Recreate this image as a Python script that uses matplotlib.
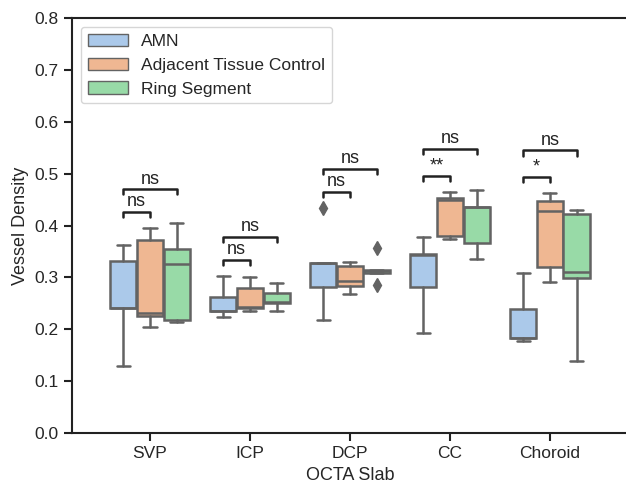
import numpy as np
import matplotlib.pyplot as plt
import seaborn as sns
from matplotlib.patches import Patch

sns.set_theme(style="ticks")
plt.rcParams['font.family'] = ['Liberation Sans', 'DejaVu Sans']

# OCTA スラブとグループ
slabs = ["SVP", "ICP", "DCP", "CC", "Choroid"]
groups = ["AMN", "Adjacent Tissue Control", "Ring Segment"]

# 箱ひげ図の統計量 (whislo, q1, med, q3, whishi) を図から読み取り
amn = [(0.129, 0.241, 0.241, 0.332, 0.362),
       (0.224, 0.235, 0.236, 0.262, 0.303),
       (0.218, 0.281, 0.328, 0.328, 0.328),
       (0.193, 0.281, 0.343, 0.345, 0.378),
       (0.177, 0.183, 0.183, 0.239, 0.308)]
adjacent = [(0.204, 0.226, 0.231, 0.372, 0.395),
            (0.235, 0.241, 0.243, 0.280, 0.301),
            (0.268, 0.283, 0.293, 0.322, 0.330),
            (0.374, 0.380, 0.449, 0.453, 0.465),
            (0.291, 0.320, 0.428, 0.447, 0.462)]
ring = [(0.214, 0.218, 0.326, 0.355, 0.405),
        (0.235, 0.251, 0.252, 0.270, 0.289),
        (0.309, 0.309, 0.312, 0.314, 0.314),
        (0.335, 0.366, 0.436, 0.436, 0.468),
        (0.139, 0.299, 0.311, 0.422, 0.430)]
# 外れ値
amn_fliers = [[], [], [0.434], [], []]
adjacent_fliers = [[], [], [], [], []]
ring_fliers = [[], [], [0.357, 0.285], [], []]

# 有意差の注釈 (AMN vs 隣接組織, AMN vs リングセグメント)
sig_adjacent = ["ns", "ns", "ns", "**", "*"]
sig_ring = ["ns", "ns", "ns", "ns", "ns"]

series = [amn, adjacent, ring]
fliers = [amn_fliers, adjacent_fliers, ring_fliers]
colors = [sns.desaturate(c, 0.75) for c in sns.color_palette("pastel")[:3]]
gray = "#636363"

fig = plt.figure(figsize=(6.26, 4.88), dpi=100)
ax = fig.add_axes([0.115, 0.1127, 0.888, 0.8503])

w = 0.8 / 3
offsets = [-w, 0, w]
for g in range(3):
    stats = []
    for i in range(len(slabs)):
        lo, q1, med, q3, hi = series[g][i]
        stats.append(dict(whislo=lo, q1=q1, med=med, q3=q3, whishi=hi,
                          fliers=fliers[g][i]))
    ax.bxp(stats, positions=np.arange(len(slabs)) + offsets[g],
           widths=w * 0.98, patch_artist=True, manage_ticks=False,
           boxprops=dict(facecolor=colors[g], edgecolor=gray, linewidth=1.8),
           medianprops=dict(color=gray, linewidth=1.8),
           whiskerprops=dict(color=gray, linewidth=1.8),
           capprops=dict(color=gray, linewidth=1.8),
           flierprops=dict(marker="d", markerfacecolor=gray,
                           markeredgecolor=gray, markersize=7))

# 注釈の括弧
def bracket(x1, x2, y, text):
    h = 0.01
    ax.plot([x1, x1, x2, x2], [y - h, y, y, y - h], color="#222222", lw=1.8)
    ax.text((x1 + x2) / 2, y + 0.003, text, ha="center", va="bottom",
            fontsize=13, color="#222222")

for i in range(len(slabs)):
    top1 = max(max(series[0][i][4], series[1][i][4]),
               max(fliers[0][i] + fliers[1][i] + [0]))
    y1 = top1 + 0.031
    bracket(i - w, i, y1, sig_adjacent[i])
    gap = 0.044 if sig_adjacent[i] == "ns" else 0.052
    bracket(i - w, i + w, y1 + gap, sig_ring[i])

ax.set_xlim(-0.78, 4.78)
ax.set_ylim(0, 0.8)
ax.set_xticks(range(len(slabs)))
ax.set_xticklabels(slabs)
ax.set_yticks(np.arange(0, 0.81, 0.1))
ax.tick_params(labelsize=12.5, length=6, width=1.5, color="#222222")
for s in ax.spines.values():
    s.set_color("#222222")
    s.set_linewidth(1.5)
ax.set_xlabel("OCTA Slab", fontsize=13)
ax.set_ylabel("Vessel Density", fontsize=13)

handles = [Patch(facecolor=colors[g], edgecolor=gray, linewidth=1.0)
           for g in range(3)]
leg = ax.legend(handles, groups, loc="upper left", fontsize=12.5,
                handlelength=2.3)
leg.get_frame().set_edgecolor("#cccccc")

fig.savefig("out.png", dpi=100)
